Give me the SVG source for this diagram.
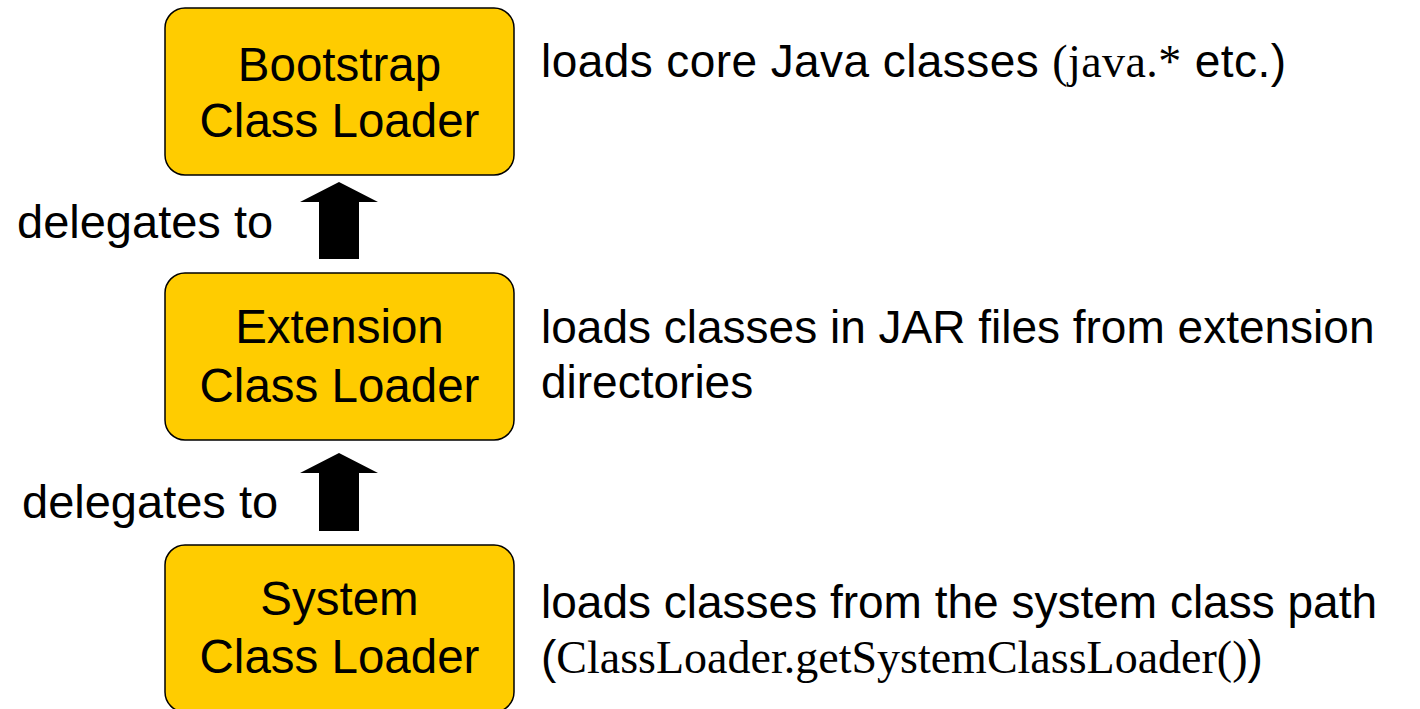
<svg xmlns="http://www.w3.org/2000/svg" width="1420" height="709" viewBox="0 0 1420 709">
<style>
.box{fill:#FFCC00;stroke:#000;stroke-width:1.5}
.t{font-family:"Liberation Sans",Arial,sans-serif;font-size:46px;fill:#000}
.b{font-size:47.5px}
.d{font-size:47px}
.c{text-anchor:middle}
.s{font-family:"Liberation Serif","Times New Roman",serif}
.arr{fill:#000}
</style>
<rect width="1420" height="709" fill="#fff"/>
<g id="bootstrap">
<rect class="box" x="165" y="8" width="349" height="167" rx="20"/>
<text class="t b c" x="339.5" y="81">Bootstrap</text>
<text class="t b c" x="339.5" y="137">Class Loader</text>
</g>
<g id="extension">
<rect class="box" x="165" y="273" width="349" height="167" rx="20"/>
<text class="t b c" x="339.5" y="343">Extension</text>
<text class="t b c" x="339.5" y="402">Class Loader</text>
</g>
<g id="system">
<rect class="box" x="165" y="545" width="349" height="167" rx="20"/>
<text class="t b c" x="339.5" y="615">System</text>
<text class="t b c" x="339.5" y="673">Class Loader</text>
</g>
<g id="connectors">
<polygon class="arr" points="339,182 378,202 359,202 359,259 319,259 319,202 300,202"/>
<polygon class="arr" points="339,453 378,473 359,473 359,531 319,531 319,473 300,473"/>
<text class="t d" x="17" y="238">delegates to</text>
<text class="t d" x="22" y="518">delegates to</text>
</g>
<g id="desc-bootstrap">
<text class="t" x="541" y="77" textLength="745">loads core Java classes <tspan class="s">(java.*</tspan> etc.)</text>
</g>
<g id="desc-extension">
<text class="t" x="541" y="343">loads classes in JAR files from extension</text>
<text class="t" x="541" y="398">directories</text>
</g>
<g id="desc-system">
<text class="t" x="541" y="618">loads classes from the system class path</text>
<text class="t" x="541" y="673">(<tspan class="s">ClassLoader.getSystemClassLoader()</tspan>)</text>
</g>
</svg>
